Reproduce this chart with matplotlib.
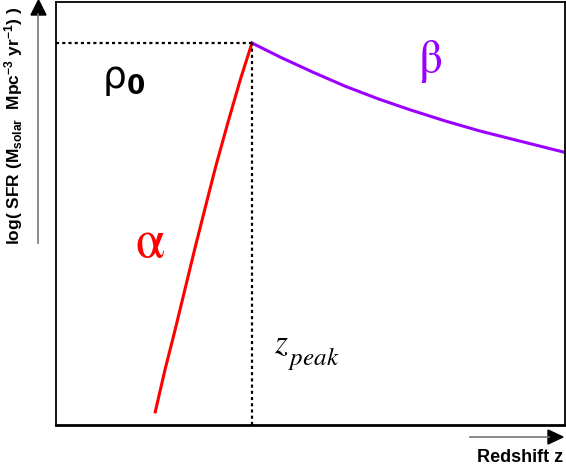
import matplotlib.pyplot as plt
from matplotlib.lines import Line2D
from matplotlib.patches import Polygon

# schematic star formation history, arbitrary units (0-10 on both axes)
z_rise = [1.95, 2.14, 2.34, 2.53, 2.73, 2.93, 3.14, 3.38, 3.62, 3.85]
sfr_rise = [0.31, 1.30, 2.25, 3.19, 4.18, 5.13, 6.12, 7.16, 8.16, 9.03]

z_fall = [3.85, 4.40, 5.03, 5.68, 6.33, 6.96, 7.64, 8.33, 9.12, 9.98]
sfr_fall = [9.03, 8.70, 8.35, 8.01, 7.71, 7.45, 7.19, 6.95, 6.71, 6.45]

z_peak = 3.85
rho_0 = 9.03

plt.rcParams['font.family'] = ['Liberation Sans', 'DejaVu Sans']
plt.rcParams['mathtext.default'] = 'regular'

W, H = 566, 467
fig = plt.figure(figsize=(W / 100, H / 100), dpi=100)
ax = fig.add_axes([56 / W, 42 / H, 509 / W, 423 / H])

ax.plot(z_rise, sfr_rise, color='#ff0000', lw=2.2)
ax.plot(z_fall, sfr_fall, color='#9a00ff', lw=2.2)

# guide lines to the peak
ax.plot([0, z_peak], [rho_0, rho_0], color='black', lw=1.6, ls=(0, (1.4, 1.4)))
ax.plot([z_peak, z_peak], [0, rho_0], color='black', lw=1.6, ls=(0, (1.4, 1.4)))

ax.set_xlim(0, 10)
ax.set_ylim(0, 10)
ax.set_xticks([])
ax.set_yticks([])
for s in ax.spines.values():
    s.set_linewidth(1.3)
ax.spines['bottom'].set_linewidth(2)

# labels on the curves
ax.text(1.32, 8.15, r'$\rho_{\mathbf{0}}$', fontsize=27, color='black',
        ha='center', va='center', family=['DejaVu Sans'])
ax.text(7.35, 8.6, r'$\mathrm{\beta}$', fontsize=34, color='#9a00ff',
        ha='center', va='center', math_fontfamily='stix')
ax.text(1.85, 4.3, r'$\mathrm{\alpha}$', fontsize=38, color='#ff0000',
        ha='center', va='center', math_fontfamily='stix')
ax.text(4.29, 1.70, r'$\mathit{z}$', fontsize=24, color='black',
        ha='left', va='baseline', math_fontfamily='stix')
ax.text(4.56, 1.42, r'$\mathit{peak}$', fontsize=18, color='black',
        ha='left', va='baseline', math_fontfamily='stix')

# axis arrows drawn in figure pixels
fig.add_artist(Line2D([38 / W, 38 / W], [1 - 243 / H, 1 - 14 / H],
                      color='#777777', lw=1.2))
fig.add_artist(Polygon([[31 / W, 1 - 15 / H], [46 / W, 1 - 15 / H], [38.5 / W, 1.0]],
                       closed=True, color='black'))
fig.add_artist(Line2D([470 / W, 549 / W], [1 - 437 / H, 1 - 437 / H],
                      color='#777777', lw=1.2))
fig.add_artist(Polygon([[548 / W, 1 - 430 / H], [548 / W, 1 - 444 / H], [563 / W, 1 - 437 / H]],
                       closed=True, color='black'))

fig.text(14 / W, 1 - 126 / H,
         r'log( SFR (M$_{solar}$  Mpc$^{-3}$ yr$^{-1}$) )',
         rotation=90, ha='center', va='center', fontsize=12.5, fontweight='bold')
fig.text(563 / W, 1 - 457 / H, 'Redshift z', ha='right', va='center',
         fontsize=13, fontweight='bold')

fig.savefig('out.png', dpi=100)
